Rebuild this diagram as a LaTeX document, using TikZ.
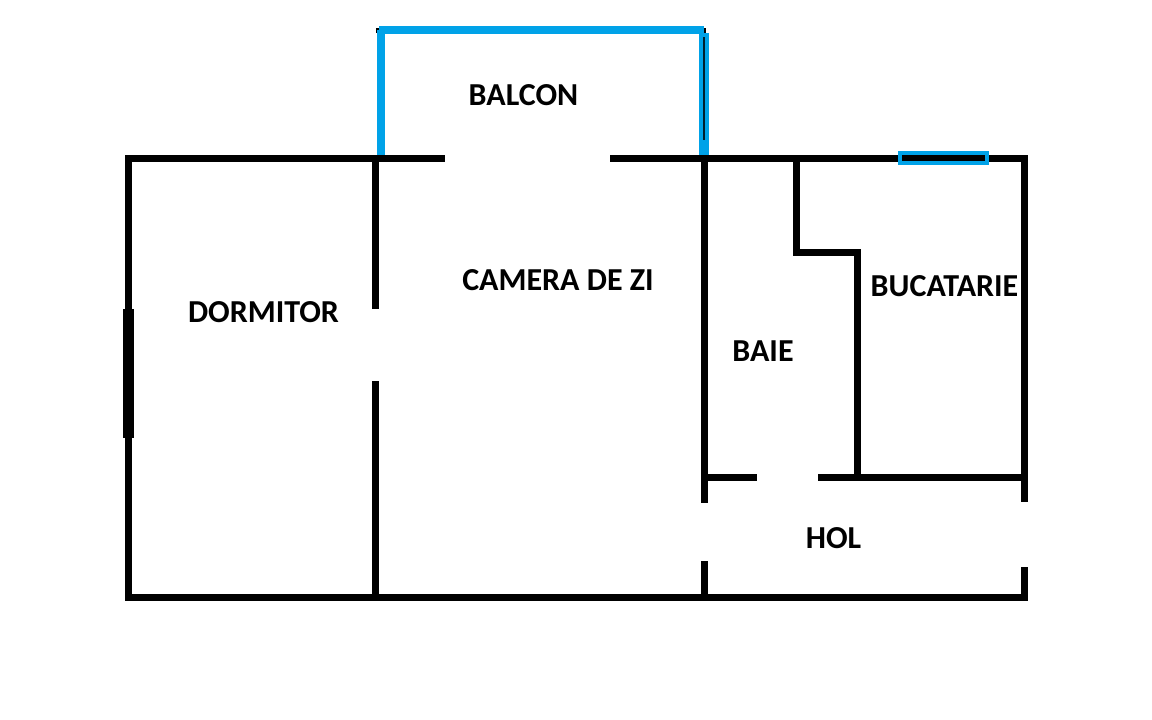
\documentclass[tikz,border=0pt]{standalone}
\usepackage{fontspec}
\setmainfont{Carlito}
\usepackage{tikz}
\definecolor{glass}{HTML}{00A2E8}
\tikzset{
  wall/.style={draw=black, line width=7pt},
  thickwall/.style={draw=black, line width=11pt},
  glazing/.style={draw=glass, line width=8.5pt},
  room/.style={font=\fontsize{32}{32}\selectfont\bfseries, text=black, inner sep=0pt}
}
\begin{document}
\begin{tikzpicture}[x=1pt, y=-1pt]
\useasboundingbox (0,0) rectangle (1152,720);
% balcony
\draw[draw=black, line width=5pt] (376,30) -- (706,30);
\draw[glazing] (381,155) -- (381,30);
\draw[glazing] (379,30) -- (704,30);
\draw[draw=glass, line width=9.5pt] (704,155) -- (704,33);
\draw[draw=black!80!glass, line width=1.2pt] (704,37) -- (704,140);
% outer walls
\draw[wall] (125,158) -- (445,158);
\draw[wall] (610,158) -- (1028,158);
\draw[wall] (125,597.5) -- (1028,597.5);
\draw[wall] (128.5,158) -- (128.5,597.5);
\draw[thickwall] (128,309) -- (128,438);
\draw[wall] (1024,158) -- (1024,502);
\draw[wall] (1024,567) -- (1024,597.5);
% inner walls
\draw[wall] (375,158) -- (375,309);
\draw[wall] (375,381) -- (375,597.5);
\draw[wall] (704.5,158) -- (704.5,503);
\draw[wall] (704.5,561) -- (704.5,597.5);
\draw[wall] (704.5,477) -- (757,477);
\draw[wall] (818,477) -- (1028,477);
\draw[wall] (796,158) -- (796,252) -- (857,252) -- (857,477);
% kitchen window
\draw[draw=glass, line width=4pt] (900,153) rectangle (987,163);
% room names
\node (balcon) [room] at (523.5,95) {BALCON};
\node (camera) [room] at (558,280) {CAMERA DE ZI};
\node (dormitor) [room] at (263.5,312) {DORMITOR};
\node (bucatarie) [room] at (944.5,286) {BUCATARIE};
\node (baie) [room] at (763,351) {BAIE};
\node (hol) [room] at (833.5,538.5) {HOL};
\end{tikzpicture}
\end{document}
